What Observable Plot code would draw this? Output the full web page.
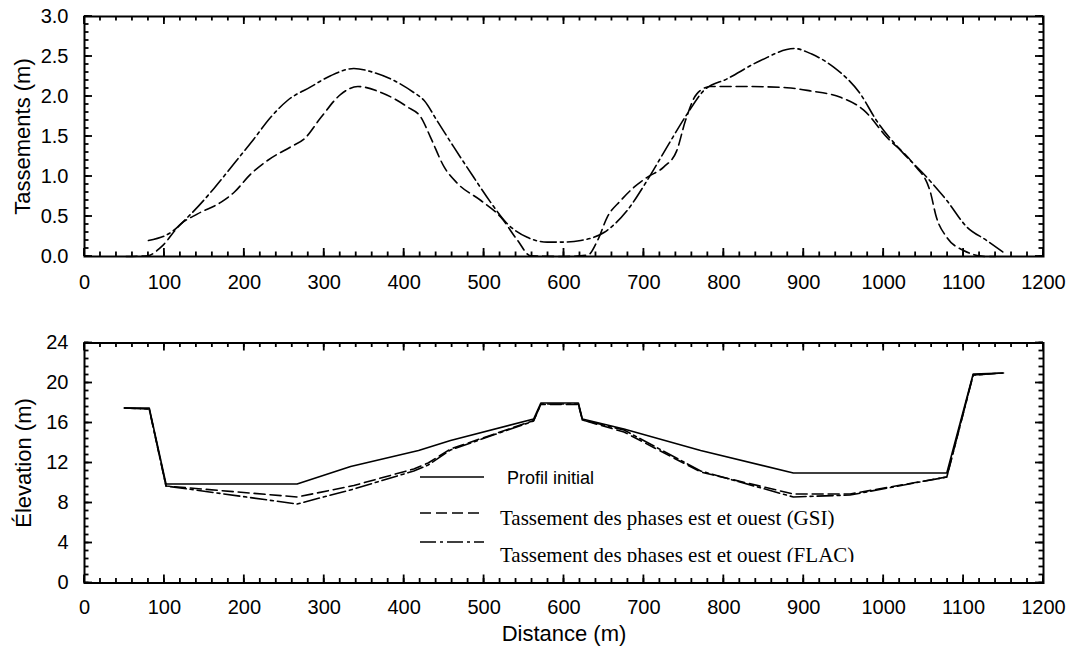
<!DOCTYPE html>
<html>
<head>
<meta charset="utf-8">
<script src="https://cdn.jsdelivr.net/npm/d3@7"></script>
<script src="https://cdn.jsdelivr.net/npm/@observablehq/plot@0.6"></script>
<style>
  body { margin: 0; background: #fff; }
  #wrap { position: relative; width: 1068px; height: 647px; overflow: hidden; background: #fff; }
  #wrap > svg { display: block; }
  #overlay { position: absolute; left: 0; top: 0; pointer-events: none; }
</style>
</head>
<body>
<div id="wrap"></div>
<script>
// Settlement along the alignment (m) — GSI estimate
const gsiDist   = [52, 79, 96, 121, 141, 171, 187, 208, 229, 258, 275, 296, 321, 342, 371, 404, 421, 433, 450, 467, 496, 521, 542, 558, 600, 630, 642, 654, 671, 688, 704, 725, 741, 752, 766, 783, 825, 879, 908, 946, 975, 1004, 1037, 1058, 1066, 1079, 1100, 1129, 1140];
const gsiSettle = [0.0, 0.01, 0.12, 0.41, 0.53, 0.68, 0.80, 1.03, 1.20, 1.37, 1.47, 1.74, 2.03, 2.125, 2.05, 1.87, 1.74, 1.49, 1.12, 0.91, 0.70, 0.49, 0.20, 0.01, 0.0, 0.02, 0.2, 0.49, 0.70, 0.87, 0.99, 1.12, 1.32, 1.70, 2.03, 2.125, 2.125, 2.11, 2.07, 1.99, 1.83, 1.49, 1.16, 0.82, 0.49, 0.24, 0.075, 0.0, 0.0];

// Settlement along the alignment (m) — FLAC model
const flacDist   = [80, 108, 133, 162, 187, 212, 233, 254, 283, 308, 337, 362, 412, 425, 441, 462, 487, 508, 529, 554, 579, 600, 621, 650, 679, 704, 729, 754, 775, 804, 846, 888, 910, 937, 971, 991, 1021, 1054, 1079, 1104, 1129, 1150];
const flacSettle = [0.20, 0.30, 0.53, 0.85, 1.16, 1.47, 1.74, 1.95, 2.12, 2.26, 2.35, 2.30, 2.05, 1.95, 1.70, 1.37, 0.99, 0.68, 0.41, 0.24, 0.18, 0.18, 0.20, 0.30, 0.575, 0.95, 1.37, 1.78, 2.075, 2.22, 2.45, 2.60, 2.53, 2.37, 2.03, 1.70, 1.33, 0.99, 0.70, 0.37, 0.20, 0.05];

// Ground elevation (m): initial profile and settled profiles
const profDist = [50, 81, 102, 266, 333, 418, 458, 562, 571, 618, 623, 675, 771, 887, 1079, 1112, 1150];
const profElev = [17.5, 17.5, 9.9, 9.9, 11.65, 13.25, 14.25, 16.4, 18.0, 18.0, 16.4, 15.4, 13.25, 11.0, 11.0, 20.9, 21.0];

const gsiElevDist = [50, 81, 102, 266, 337, 412, 430, 458, 562, 571, 618, 623, 675, 771, 887, 958, 1079, 1112, 1150];
const gsiElev     = [17.5, 17.4, 9.7, 8.6, 9.75, 11.4, 12.0, 13.4, 16.25, 17.85, 17.85, 16.3, 15.1, 11.1, 8.9, 8.9, 10.6, 20.8, 21.0];

const flacElevDist = [50, 81, 102, 266, 337, 412, 430, 458, 562, 571, 618, 623, 675, 771, 887, 958, 1079, 1112, 1150];
const flacElev     = [17.5, 17.4, 9.7, 7.9, 9.4, 11.2, 11.8, 13.3, 16.2, 17.9, 17.9, 16.3, 15.3, 11.2, 8.6, 8.8, 10.6, 20.8, 21.0];

// Axis ticks and labels
const xTicks = [0, 100, 200, 300, 400, 500, 600, 700, 800, 900, 1000, 1100, 1200];
const settleTicks = [0, 0.5, 1.0, 1.5, 2.0, 2.5, 3.0];
const elevTicks = [0, 4, 8, 12, 16, 20, 24];

const legendLabels = ["Profil initial", "Tassement des phases est et ouest (GSI)", "Tassement des phases est et ouest (FLAC)"];

const DASH_GSI = "11,5";
const DASH_FLAC = "16,4,3,4";
const sans = "'Liberation Sans', Arial, Helvetica, sans-serif";
const serif = "'Liberation Serif', 'Times New Roman', serif";

const W = 1068, ML = 84, MR = 25;
const TOP_H = 320, BOTTOM_H = 327;
const X_DOMAIN = [0, 1200];

const pts = (xs, ys) => xs.map((x, i) => ({x, y: ys[i]}));

function labelAxes({yTicks, yFmt, xPad}) {
  return [
    Plot.axisX({ticks: xTicks, anchor: "bottom", tickSize: 0, tickPadding: xPad, tickFormat: d3.format("d"), label: null}),
    Plot.axisY({ticks: yTicks, anchor: "left", tickSize: 0, tickPadding: 16, tickFormat: yFmt, label: null})
  ];
}

const baseStyle = {fontFamily: sans, fontSize: "20px", color: "black"};
const titleText = {text: d => d, fontSize: 22, lineAnchor: "middle", textAnchor: "middle", fill: "black"};

// Upper panel: settlements
const settlePlot = Plot.plot({
  width: W, height: TOP_H,
  marginLeft: ML, marginRight: MR, marginTop: 16, marginBottom: 64,
  style: baseStyle,
  x: {domain: X_DOMAIN},
  y: {domain: [0, 3]},
  marks: [
    Plot.line(pts(gsiDist, gsiSettle), {x: "x", y: "y", curve: "monotone-x", stroke: "black", strokeWidth: 1.6, strokeDasharray: DASH_GSI}),
    Plot.line(pts(flacDist, flacSettle), {x: "x", y: "y", curve: "monotone-x", stroke: "black", strokeWidth: 1.6, strokeDasharray: DASH_FLAC}),
    Plot.frame({stroke: "black", strokeWidth: 2}),
    ...labelAxes({yTicks: settleTicks, yFmt: d3.format(".1f"), xPad: 18}),
    Plot.text(["Tassements (m)"], {frameAnchor: "left", dx: -62, rotate: -90, ...titleText})
  ]
});

// Lower panel: elevation profiles
const elevPlot = Plot.plot({
  width: W, height: BOTTOM_H,
  marginLeft: ML, marginRight: MR, marginTop: 22.5, marginBottom: 64.5,
  style: baseStyle,
  x: {domain: X_DOMAIN},
  y: {domain: [0, 24]},
  marks: [
    Plot.line(pts(profDist, profElev), {x: "x", y: "y", stroke: "black", strokeWidth: 1.6}),
    Plot.line(pts(gsiElevDist, gsiElev), {x: "x", y: "y", stroke: "black", strokeWidth: 1.6, strokeDasharray: DASH_GSI}),
    Plot.line(pts(flacElevDist, flacElev), {x: "x", y: "y", stroke: "black", strokeWidth: 1.6, strokeDasharray: DASH_FLAC}),
    Plot.frame({stroke: "black", strokeWidth: 2}),
    ...labelAxes({yTicks: elevTicks, yFmt: d3.format("d"), xPad: 16.5}),
    Plot.text(["Élevation (m)"], {frameAnchor: "left", dx: -61, rotate: -90, ...titleText}),
    Plot.text(["Distance (m)"], {frameAnchor: "bottom", dy: 51, ...titleText})
  ]
});

const wrap = document.getElementById("wrap");
wrap.appendChild(settlePlot);
wrap.appendChild(elevPlot);

// Overlay: inward frame ticks (placed with each panel's Plot scales) and the legend
const overlay = d3.select(wrap).append("svg")
  .attr("id", "overlay").attr("width", W).attr("height", TOP_H + BOTTOM_H);

function drawFrameTicks(plot, offsetY, yTicks, yStep) {
  const sx = plot.scale("x"), sy = plot.scale("y");
  const [xa, xb] = sx.domain, [ya, yb] = sy.domain;
  const left = sx.apply(xa), right = sx.apply(xb);
  const bottom = sy.apply(ya) + offsetY, top = sy.apply(yb) + offsetY;
  const xMinor = d3.range(0, Math.round((xb - xa) / 20) + 1).map(i => xa + i * 20);
  const yMinor = d3.range(0, Math.round((yb - ya) / yStep) + 1).map(i => ya + i * yStep);
  const major = 8, minor = 4.5;
  const g = overlay.append("g").attr("stroke", "black").attr("stroke-width", 1.8);
  const xs = [...xMinor.map(v => [v, minor]), ...xTicks.map(v => [v, major])];
  const ys = [...yMinor.map(v => [v, minor]), ...yTicks.map(v => [v, major])];
  for (const [v, len] of xs) {
    const px = sx.apply(v);
    g.append("line").attr("x1", px).attr("x2", px).attr("y1", bottom).attr("y2", bottom - len);
    g.append("line").attr("x1", px).attr("x2", px).attr("y1", top).attr("y2", top + len);
  }
  for (const [v, len] of ys) {
    const py = sy.apply(v) + offsetY;
    g.append("line").attr("x1", left).attr("x2", left + len).attr("y1", py).attr("y2", py);
    g.append("line").attr("x1", right).attr("x2", right - len).attr("y1", py).attr("y2", py);
  }
}
drawFrameTicks(settlePlot, 0, settleTicks, 0.1);
drawFrameTicks(elevPlot, TOP_H, elevTicks, 0.8);

// Legend placed inside the lower panel
overlay.append("defs").append("clipPath").attr("id", "legclip")
  .append("rect").attr("x", 400).attr("y", 460).attr("width", 520).attr("height", 102);
const lg = overlay.append("g").attr("clip-path", "url(#legclip)");
const rows = [
  {label: legendLabels[0], dash: null, ly: 477, ty: 484, tx: 507, font: sans, size: 18},
  {label: legendLabels[1], dash: DASH_GSI, ly: 513, ty: 525, tx: 500, font: serif, size: 21},
  {label: legendLabels[2], dash: DASH_FLAC, ly: 542, ty: 562, tx: 500, font: serif, size: 21}
];
for (const r of rows) {
  lg.append("line").attr("x1", 420).attr("x2", 484).attr("y1", r.ly).attr("y2", r.ly)
    .attr("stroke", "black").attr("stroke-width", 1.6)
    .attr("stroke-dasharray", r.dash);
  lg.append("text").attr("x", r.tx).attr("y", r.ty)
    .attr("font-family", r.font).attr("font-size", r.size).attr("fill", "black")
    .text(r.label);
}
</script>
</body>
</html>
